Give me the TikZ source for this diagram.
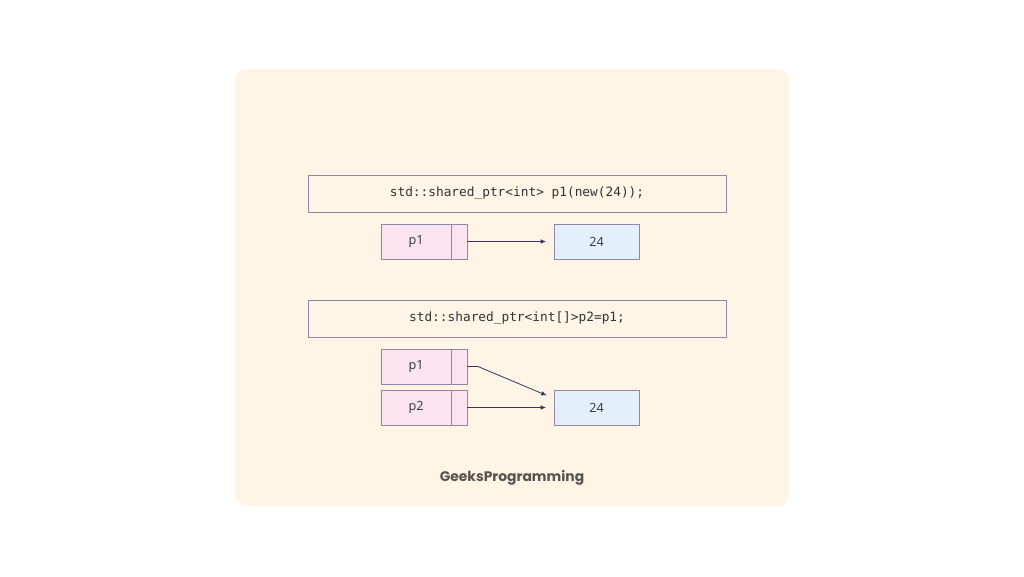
\documentclass[tikz,border=0pt]{standalone}
\usepackage{fontspec}
\setmainfont{Open Sans}
\setmonofont{DejaVu Sans Mono}
\newfontfamily\brandfont{Poppins}
\usetikzlibrary{arrows.meta,positioning,calc}
\definecolor{cream}{HTML}{FEF5E6}
\definecolor{edge}{HTML}{8F87A3}
\definecolor{pink}{HTML}{FBE3F0}
\definecolor{sky}{HTML}{E3F0FC}
\definecolor{ink}{HTML}{3A355E}
\definecolor{brandgray}{HTML}{57534F}

\begin{document}
\begin{tikzpicture}[x=0.75pt,y=-0.75pt,every node/.style={inner sep=0pt,outer sep=0pt,align=center,text=black!80},
  codebox/.style={draw=edge,line width=0.7pt,minimum width=313.5pt,minimum height=27.75pt,font=\ttfamily\fontsize{9.6}{11}\selectfont},
  ptrbox/.style={draw=edge,line width=0.7pt,fill=pink,minimum width=52.5pt,minimum height=26.25pt,font=\fontsize{9.5}{11}\selectfont},
  ptrcell/.style={draw=edge,line width=0.7pt,fill=pink,minimum width=12pt,minimum height=26.25pt},
  valbox/.style={draw=edge,line width=0.7pt,fill=sky,minimum width=63.75pt,minimum height=26.25pt,font=\fontsize{9.5}{11}\selectfont},
  link/.style={-{Latex[length=4pt,width=3.5pt]},ink,line width=0.6pt,shorten >=6pt}]
\useasboundingbox (0,0) rectangle (1024,576);
\fill[white] (0,0) rectangle (1024,576);
\fill[cream,rounded corners=9pt] (235,69) rectangle (789,506);
% first statement
\node[codebox] (code1) at (517,193.5) {std::shared\_ptr<int> p1(new(24));};
\node[ptrbox] (a1) at (416,241.5) {p1};
\node[ptrcell,right=0pt of a1] (a1c) {};
\node[valbox] (v1) at (596.5,241.5) {24};
\draw[link] (a1c.east) -- (v1.west);
% second statement
\node[codebox] (code2) at (517,318.5) {std::shared\_ptr<int[]>p2=p1;};
\node[ptrbox] (b1) at (416,366.5) {p1};
\node[ptrcell,right=0pt of b1] (b1c) {};
\node[ptrbox] (b2) at (416,407.5) {p2};
\node[ptrcell,right=0pt of b2] (b2c) {};
\node[valbox] (v2) at (596.5,407.5) {24};
\coordinate (bend) at ($(b1c.east)+(11,0)$);
\coordinate (tip) at ($(v2.west)+(0,-9)$);
\draw[link,shorten >=6pt] (b1c.east) -- (bend) -- (tip);
\draw[link] (b2c.east) -- (v2.west);
\node[font=\brandfont\bfseries\fontsize{10.4}{13}\selectfont,text=brandgray] (brand) at (512,478) {GeeksProgramming};
\end{tikzpicture}
\end{document}
